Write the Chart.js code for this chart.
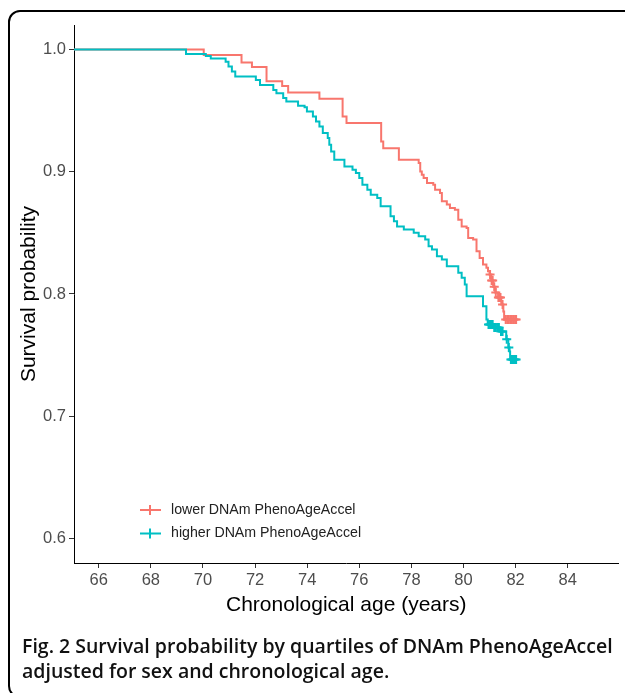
<!DOCTYPE html>
<html>
<head>
<meta charset="utf-8">
<script src="https://cdn.jsdelivr.net/npm/chart.js@4.4.1/dist/chart.umd.min.js"></script>
<style>
  html, body { margin: 0; padding: 0; background: #fff; }
  body { width: 625px; height: 693px; position: relative; overflow: hidden; }
  #frame { position: absolute; left: 8px; top: 10px; width: 660px; height: 684px; border: 2px solid #000; border-radius: 12px; }
  #wrap { position: absolute; left: 0; top: 0; width: 625px; height: 693px; }
  #caption { position: absolute; left: 22px; top: 633px; font-family: "Open Sans", sans-serif; font-weight: 600;
             font-size: 19.5px; line-height: 25px; color: #111; white-space: nowrap; }
</style>
</head>
<body>
<div id="frame"></div>
<div id="wrap"><canvas id="km" width="625" height="693"></canvas></div>
<div id="caption">Fig. 2 Survival probability by quartiles of DNAm PhenoAgeAccel<br>adjusted for sex and chronological age.</div>
<script>
// ---- data ----
const seriesLabels = ["lower DNAm PhenoAgeAccel", "higher DNAm PhenoAgeAccel"];
const seriesColors = ["#F8766D", "#00BFC4"];

// lower group: age at each step, survival after the step
const lowerAge = [65.05, 70.03, 71.48, 71.88, 72.44, 73.04, 73.27, 74.47, 75.36, 75.51,
  76.84, 76.92, 77.52, 78.28, 78.34, 78.40, 78.47, 78.60, 78.84, 78.91,
  79.10, 79.17, 79.36, 79.48, 79.67, 79.80, 79.93, 80.12, 80.18, 80.37,
  80.50, 80.62, 80.75, 80.88, 80.94, 81.00, 81.07, 81.14, 81.22, 81.33,
  81.45, 81.53, 81.56, 82.02];
const lowerSurv = [1.0, 0.9955, 0.9894, 0.9857, 0.9739, 0.9702, 0.9647, 0.9596, 0.9451, 0.9398,
  0.9247, 0.9193, 0.9098, 0.9071, 0.9002, 0.8976, 0.8949, 0.8908, 0.8894, 0.8853,
  0.8826, 0.8758, 0.8731, 0.8704, 0.8690, 0.8608, 0.8553, 0.8540, 0.8459, 0.8445,
  0.8349, 0.8295, 0.8241, 0.8214, 0.8186, 0.8159, 0.8110, 0.8060, 0.8012, 0.7971,
  0.7914, 0.7857, 0.7792, 0.7792];

// higher group
const higherAge = [65.05, 69.35, 70.11, 70.30, 70.87, 70.98, 71.11, 71.24, 72.03, 72.19,
  72.70, 72.82, 73.08, 73.20, 73.65, 73.90, 73.99, 74.22, 74.34, 74.47,
  74.60, 74.79, 74.85, 74.92, 75.04, 75.43, 75.74, 75.87, 76.00, 76.12,
  76.31, 76.44, 76.69, 76.82, 77.20, 77.33, 77.45, 77.71, 78.09, 78.28,
  78.53, 78.66, 78.79, 78.98, 79.17, 79.36, 79.80, 79.93, 80.05, 80.12,
  80.75, 80.88, 80.93, 81.15, 81.40, 81.64, 81.72, 81.77, 81.79, 82.02];
const higherSurv = [1.0, 0.9963, 0.9947, 0.9927, 0.9900, 0.9860, 0.9819, 0.9778, 0.9751, 0.9710,
  0.9669, 0.9642, 0.9602, 0.9574, 0.9539, 0.9528, 0.9492, 0.9451, 0.9411, 0.9370,
  0.9316, 0.9275, 0.9220, 0.9166, 0.9098, 0.9043, 0.9016, 0.8989, 0.8949, 0.8894,
  0.8853, 0.8812, 0.8785, 0.8717, 0.8635, 0.8594, 0.8553, 0.8527, 0.8500, 0.8472,
  0.8445, 0.8390, 0.8363, 0.8309, 0.8282, 0.8227, 0.8173, 0.8132, 0.8078, 0.7982,
  0.7900, 0.7792, 0.7750, 0.7727, 0.7694, 0.7629, 0.7563, 0.7530, 0.7465, 0.7465];

// censoring marks (+)
const lowerCensAge = [81.02, 81.08, 81.12, 81.18, 81.24, 81.34, 81.38, 81.42, 81.50,
  81.62, 81.68, 81.74, 81.80, 81.86, 81.92, 81.98, 82.02];
const lowerCensSurv = [0.8159, 0.8110, 0.8110, 0.8060, 0.8012, 0.7971, 0.7971, 0.7971, 0.7914,
  0.7792, 0.7792, 0.7792, 0.7792, 0.7792, 0.7792, 0.7792, 0.7792];
const higherCensAge = [80.96, 81.00, 81.04, 81.08, 81.12, 81.18, 81.24, 81.30, 81.36,
  81.44, 81.50, 81.66, 81.74, 81.82, 81.86, 81.90, 81.94, 81.98, 82.02];
const higherCensSurv = [0.7750, 0.7750, 0.7750, 0.7750, 0.7750, 0.7727, 0.7727, 0.7727, 0.7727,
  0.7694, 0.7694, 0.7629, 0.7563, 0.7465, 0.7465, 0.7465, 0.7465, 0.7465, 0.7465];

const xTicks = [66, 68, 70, 72, 74, 76, 78, 80, 82, 84];
const yTicks = [0.6, 0.7, 0.8, 0.9, 1.0];

// ---- helpers ----
const pts = (xs, ys) => xs.map((x, i) => ({ x: x, y: ys[i] }));
const AXIS_FONT = "Liberation Sans, Arial, sans-serif";

// legend drawn inside the panel, bottom-left, like ggsurvplot
const kmLegend = {
  id: "kmLegend",
  afterDraw(chart) {
    const { ctx, chartArea } = chart;
    ctx.save();
    seriesLabels.forEach((label, i) => {
      const cx = chartArea.left + 76;
      const cy = chartArea.bottom - 53 + i * 23.5;
      ctx.strokeStyle = seriesColors[i];
      ctx.lineWidth = 2;
      ctx.beginPath();
      ctx.moveTo(cx - 10, cy); ctx.lineTo(cx + 11, cy);
      ctx.moveTo(cx, cy - 5); ctx.lineTo(cx, cy + 5);
      ctx.stroke();
      ctx.fillStyle = "#222";
      ctx.font = "14.2px " + AXIS_FONT;
      ctx.textBaseline = "middle";
      ctx.textAlign = "left";
      ctx.fillText(label, cx + 21, cy);
    });
    ctx.restore();
  }
};

const lineDs = (label, xs, ys, color, order) => ({
  type: "line", label: label, data: pts(xs, ys), order: order,
  borderColor: color, borderWidth: 2, stepped: true,
  pointRadius: 0, fill: false, tension: 0
});
const censDs = (xs, ys, color, order) => ({
  type: "scatter", label: "", data: pts(xs, ys), order: order,
  pointStyle: "cross", pointRadius: 4.5, borderColor: color, backgroundColor: color,
  borderWidth: 2, pointHoverRadius: 4.5
});

new Chart(document.getElementById("km"), {
  data: {
    datasets: [
      lineDs(seriesLabels[0], lowerAge, lowerSurv, seriesColors[0], 2),
      lineDs(seriesLabels[1], higherAge, higherSurv, seriesColors[1], 0),
      censDs(lowerCensAge, lowerCensSurv, seriesColors[0], 3),
      censDs(higherCensAge, higherCensSurv, seriesColors[1], 1)
    ]
  },
  options: {
    responsive: false,
    animation: false,
    devicePixelRatio: 1,
    layout: { padding: { left: 0, right: 2, top: 25, bottom: 70 } },
    plugins: { legend: { display: false }, tooltip: { enabled: false } },
    scales: {
      x: {
        type: "linear", min: 65.05, max: 85.95,
        afterBuildTicks: s => { s.ticks = xTicks.map(v => ({ value: v })); },
        afterFit: s => { s.height = 60; },
        ticks: { color: "#4d4d4d", font: { family: AXIS_FONT, size: 16.5 }, padding: 3,
                 maxRotation: 0, autoSkip: false, callback: v => String(v) },
        grid: { display: true, drawOnChartArea: false, drawTicks: true, tickLength: 5, tickColor: "#333" },
        border: { display: true, color: "#000", width: 1 },
        title: { display: true, text: "Chronological age (years)", color: "#000",
                 font: { family: AXIS_FONT, size: 21 }, padding: { top: 0, bottom: 5 } }
      },
      y: {
        type: "linear", min: 0.58, max: 1.02,
        afterBuildTicks: s => { s.ticks = yTicks.map(v => ({ value: v })); },
        afterFit: s => { s.width = 74; },
        ticks: { color: "#4d4d4d", font: { family: AXIS_FONT, size: 16.5 }, padding: 3,
                 callback: v => v.toFixed(1) },
        grid: { display: true, drawOnChartArea: false, drawTicks: true, tickLength: 5, tickColor: "#333" },
        border: { display: true, color: "#000", width: 1 },
        title: { display: true, text: "Survival probability", color: "#000",
                 font: { family: AXIS_FONT, size: 21 }, padding: { top: 17, bottom: 0 } }
      }
    }
  },
  plugins: [kmLegend]
});
</script>
</body>
</html>
